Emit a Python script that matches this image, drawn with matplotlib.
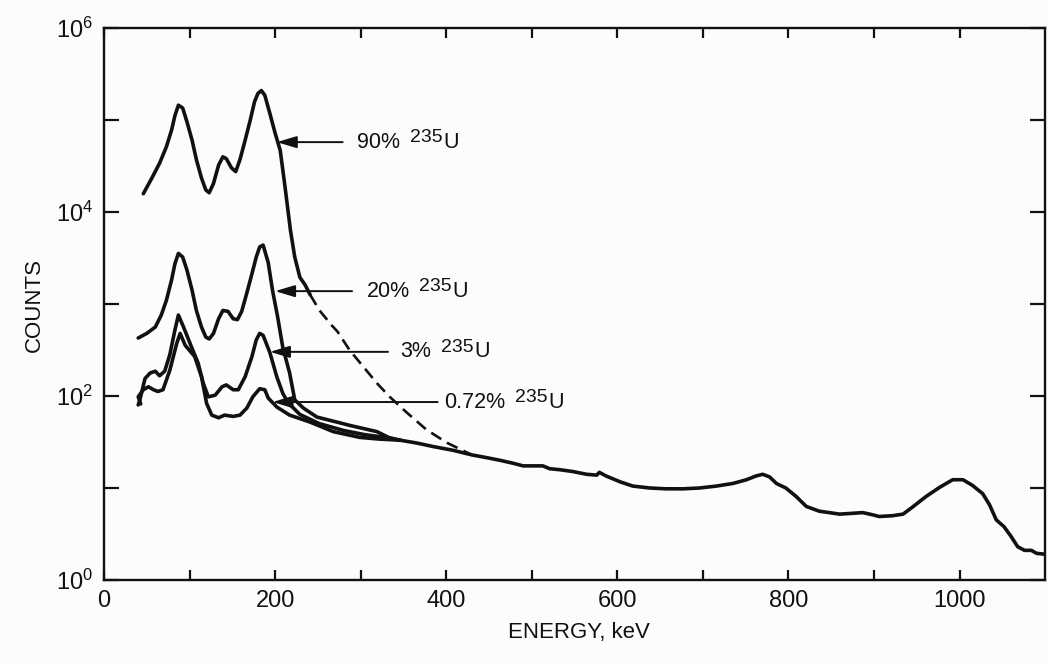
import matplotlib
matplotlib.use("Agg")
import matplotlib.pyplot as plt
import numpy as np

plt.rcParams["font.family"] = ["Liberation Sans", "DejaVu Sans"]
plt.rcParams["mathtext.default"] = "regular"

# 90% 235U, solid part (keV, counts)
e90 = [46, 56, 65, 73, 79, 83, 87, 92, 97, 103, 108, 114, 119, 123, 128, 134, 139, 143,
       149, 154, 159, 165, 171, 176, 180, 184, 188, 194, 200, 206, 211, 218, 223, 229, 235, 241]
c90 = [15800, 23400, 33900, 51300, 77600, 112000, 145000, 135000, 95500, 60300, 37200,
       23400, 17400, 16200, 20400, 32400, 39800, 38000, 30200, 27500, 37200, 60300, 100000,
       158000, 195000, 209000, 186000, 117000, 72400, 46800, 20900, 6310, 3240, 1950, 1620, 1260]
# 90% 235U, dashed extrapolation
e90_dash = [241, 252, 266, 273, 287, 303, 319, 334, 354, 377, 401, 430]
c90_dash = [1260, 851, 589, 501, 316, 209, 138, 98, 66, 43, 31, 22.9]

# 20% 235U
e20 = [40, 50, 60, 67, 73, 79, 83, 87, 92, 97, 103, 108, 114, 119, 123, 128, 134, 139,
       145, 151, 156, 161, 167, 173, 178, 182, 186, 192, 197, 203, 209, 217, 223, 233,
       249, 276, 287, 319, 334, 346]
c20 = [427, 479, 562, 759, 1100, 1820, 2750, 3550, 3240, 2340, 1410, 851, 562, 437, 417,
       479, 692, 851, 832, 692, 676, 832, 1320, 2140, 3240, 4170, 4370, 2820, 1410, 724,
       339, 178, 91, 74, 59, 51, 48, 41, 35, 33.1]

# 3% 235U
e3 = [40, 42, 48, 54, 60, 65, 71, 77, 83, 87, 93, 102, 110, 116, 122, 130, 138, 143, 151,
      157, 165, 173, 178, 182, 186, 194, 202, 209, 215, 229, 252, 281, 305, 334, 346]
c3 = [80, 91, 155, 178, 186, 166, 186, 282, 525, 759, 562, 347, 229, 138, 98, 102, 126, 132,
      117, 117, 162, 269, 407, 479, 457, 295, 162, 107, 85, 63, 50, 42, 38, 35, 33.1]

# 0.72% 235U
e072 = [43, 40, 46, 52, 58, 63, 69, 77, 85, 89, 95, 106, 114, 120, 126, 134, 141, 151, 159,
        167, 174, 182, 188, 192, 202, 217, 241, 268, 299, 322, 346]
c072 = [82, 98, 117, 126, 117, 112, 117, 191, 372, 479, 355, 269, 162, 83, 62, 58, 62, 60, 62,
        74, 98, 120, 117, 95, 76, 62, 52, 41, 35.5, 34, 33.1]

# common high-energy part
e_tail = [346, 365, 385, 408, 430, 447, 463, 478, 490, 513, 521, 533, 548, 564, 576, 579,
          587, 603, 618, 638, 657, 677, 696, 716, 735, 751, 762, 770, 778, 786, 797, 809,
          821, 836, 860, 887, 899, 906, 922, 934, 945, 961, 977, 992, 1004, 1015, 1027,
          1035, 1043, 1052, 1060, 1068, 1076, 1084, 1090, 1101]
c_tail = [33.1, 30.9, 28.2, 25.7, 22.9, 21.4, 20.0, 18.6, 17.4, 17.4, 16.2, 15.8, 15.1,
          14.1, 13.8, 14.8, 13.5, 11.7, 10.5, 10.0, 9.8, 9.8, 10.0, 10.5, 11.2, 12.3, 13.5,
          14.1, 13.2, 11.2, 10.0, 8.1, 6.3, 5.6, 5.2, 5.4, 5.1, 4.9, 5.0, 5.2, 6.2, 8.1,
          10.2, 12.3, 12.3, 10.7, 8.7, 6.6, 4.5, 3.8, 3.0, 2.3, 2.1, 2.1, 1.95, 1.9]

# labels and the points their arrows touch
labels = ["90%", "20%", "3%", "0.72%"]
tip_e = [202, 200, 194, 197]
tip_c = [57500, 1380, 302, 86]
tail_e = [279, 290, 332, 390]
text_e = [296, 307, 346, 398]

x_ticks = [0, 200, 400, 600, 800, 1000]
y_ticks = [1, 1e2, 1e4, 1e6]
y_labels = ["$10^{0}$", "$10^{2}$", "$10^{4}$", "$10^{6}$"]

bg = "#fcfcfc"
ink = "#111111"

fig = plt.figure(figsize=(10.48, 6.64), dpi=100, facecolor=bg)
ax = fig.add_axes([0.0992, 0.1265, 0.898, 0.8313])
ax.set_facecolor(bg)
ax.set_yscale("log")

lw = 2.6
style = dict(color=ink, lw=lw, solid_joinstyle="round", solid_capstyle="round")
ax.plot(e90, c90, **style)
ax.plot(e90_dash, c90_dash, color=ink, lw=1.9, dashes=(4.5, 2.5))
ax.plot(e20, c20, **style)
ax.plot(e3, c3, **style)
ax.plot(e072, c072, **style)
ax.plot(e_tail, c_tail, **style)

for i in range(len(labels)):
    ax.annotate("", xy=(tip_e[i], tip_c[i]), xytext=(tail_e[i], tip_c[i]),
                arrowprops=dict(arrowstyle="-|>,head_length=0.6,head_width=0.18",
                                mutation_scale=20, lw=1.4, color=ink,
                                shrinkA=0, shrinkB=0))
    t1 = ax.text(text_e[i], tip_c[i], labels[i], fontsize=15.5,
                 ha="left", va="center", color=ink)
    t2 = ax.annotate("235", xy=(1, 0.3), xycoords=t1, xytext=(7, 0),
                     textcoords="offset points", fontsize=14, ha="left",
                     va="bottom", color=ink)
    ax.annotate("U", xy=(1, 0), xycoords=(t2, t1), xytext=(0.5, 0),
                textcoords="offset points", fontsize=15.5, ha="left",
                va="bottom", color=ink)

ax.set_xlim(0, 1100)
ax.set_ylim(1, 1e6)
ax.set_xticks(x_ticks)
ax.set_xticks([100, 300, 500, 700, 900], minor=True)
ax.set_yticks(y_ticks)
ax.set_yticklabels(y_labels)
ax.set_yticks([10, 1e3, 1e5], minor=True)
ax.yaxis.set_minor_formatter(matplotlib.ticker.NullFormatter())

ax.tick_params(axis="both", which="both", direction="in", top=True, right=True,
               width=1.6, colors=ink, labelsize=17)
ax.tick_params(axis="x", which="both", length=7.5, pad=7)
ax.tick_params(axis="y", which="both", length=10.5, pad=8)
for s in ax.spines.values():
    s.set_linewidth(1.7)
    s.set_color(ink)

fig.text(0.552, 0.047, "ENERGY, keV", fontsize=16, ha="center", va="center", color=ink)
fig.text(0.033, 0.54, "COUNTS", fontsize=16, ha="center", va="center",
         rotation=90, color=ink)

fig.savefig("out.png", dpi=100, facecolor=bg)
